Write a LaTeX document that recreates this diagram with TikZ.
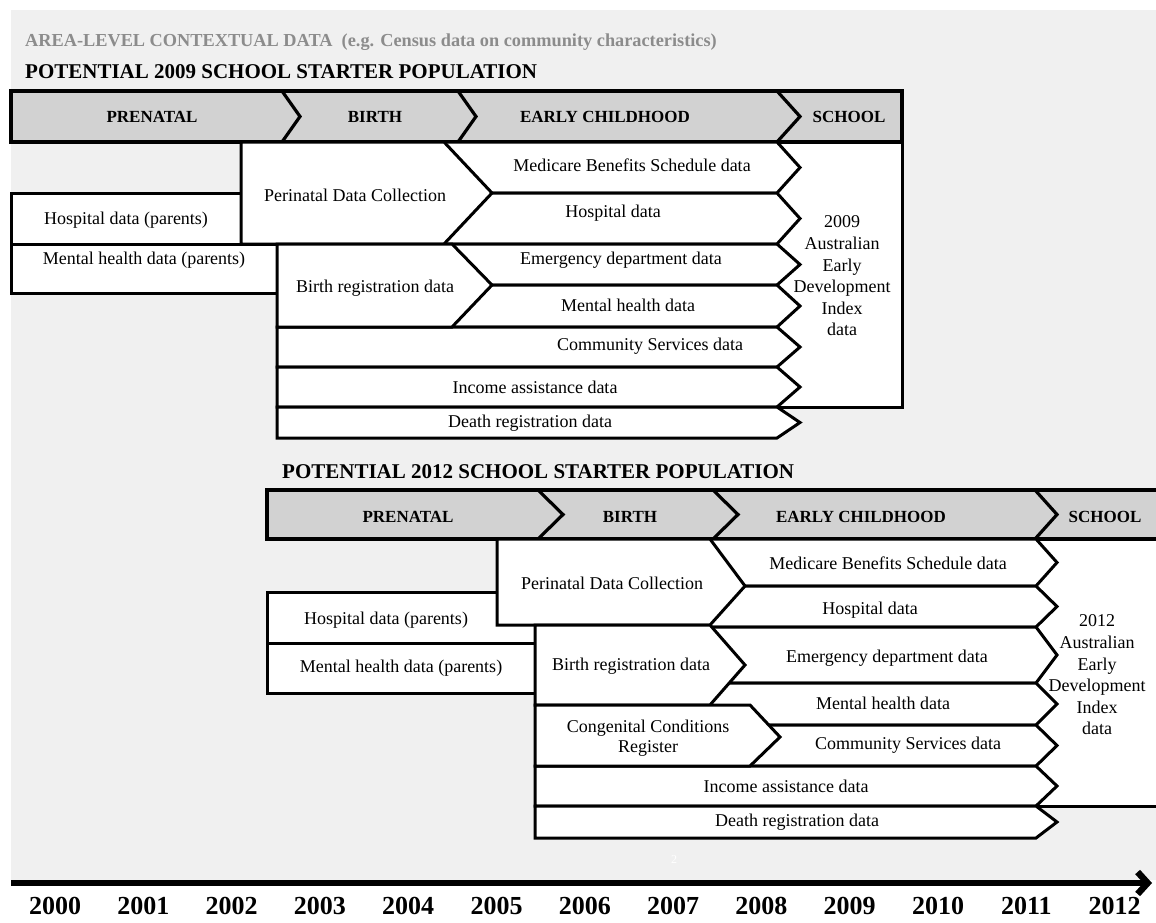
\documentclass[tikz,border=0pt]{standalone}
\usepackage{fontspec}
\setmainfont{Liberation Serif}
\usetikzlibrary{arrows.meta}
\definecolor{bggray}{HTML}{F0F0F0}
\definecolor{hdrgray}{HTML}{D2D2D2}
\definecolor{areagray}{HTML}{8C8C8C}

\begin{document}
\begin{tikzpicture}[x=1pt, y=-1pt,
  box/.style={draw=black, fill=white, line width=3pt},
  hdr/.style={draw=black, fill=hdrgray, line width=3.4pt},
  sep/.style={draw=black, line width=3.2pt},
  lbl/.style={font=\fontsize{18}{21.6}\selectfont, inner sep=0pt, align=center},
  hlbl/.style={font=\fontsize{17}{20}\selectfont\bfseries, inner sep=0pt},
  title/.style={font=\fontsize{21}{25}\selectfont\bfseries, anchor=west, inner sep=0pt},
  year/.style={font=\fontsize{26}{28}\selectfont\bfseries, inner sep=0pt},
  axis/.style={line width=6.5pt, -{Straight Barb[length=10pt, width=22pt]}},
]
\useasboundingbox (0,0) rectangle (1156,922);

% Background
\fill[bggray] (11,10) rectangle (1160,880);

% Time axis
\coordinate (axisL) at (11,883);
\coordinate (axisR) at (1152,883);
\draw[axis] (axisL) -- (axisR);
\foreach \yr [count=\i from 0] in {2000,...,2012}
  \node[year] (y\yr) at (55+88.3*\i, 906) {\yr};
\node[font=\fontsize{12}{14}\selectfont, text=white] (pgno) at (674,860) {2};

% Titles
\node[font=\fontsize{18.3}{22}\selectfont\bfseries, text=areagray, anchor=west, inner sep=0pt] (area)
  at (25,42) {AREA-LEVEL CONTEXTUAL DATA\ \ (e.g. Census data on community characteristics)};
\node[title] (pop09) at (25,72) {POTENTIAL 2009 SCHOOL STARTER POPULATION};
\node[title] (pop12) at (282,472) {POTENTIAL 2012 SCHOOL STARTER POPULATION};

%%%%% 2009 cohort
% Stage bar
\draw[hdr] (11,91) rectangle (902,142);
\draw[sep] (282,91) -- (300,116.5) -- (282,142);
\draw[sep] (458,91) -- (476,116.5) -- (458,142);
\draw[sep] (777,91) -- (800,116.5) -- (777,142);
\node[hlbl] (pre09) at (152,117) {PRENATAL};
\node[hlbl] (bir09) at (375,117) {BIRTH};
\node[hlbl] (ear09) at (605,117) {EARLY CHILDHOOD};
\node[hlbl] (sch09) at (849,117) {SCHOOL};

% AEDI box
\draw[box] (760,142) rectangle (902,407);

% Data rows
\foreach \xa/\ya/\yb in {440/142/193, 440/193/244, 440/244/285, 440/285/327,
                         277/327/367, 277/367/407, 277/407/438}
  \draw[box] (\xa,\ya) -- (777,\ya) -- (800,{(\ya+\yb)/2}) -- (777,\yb) -- (\xa,\yb) -- cycle;

% Left sources
\draw[box] (11,193) rectangle (241,244);
\draw[box] (11,244) rectangle (277,293);
\draw[box] (241,142) -- (444,142) -- (492,193) -- (444,244) -- (241,244) -- cycle;
\draw[box] (277,244) -- (452,244) -- (492,285) -- (452,327) -- (277,327) -- cycle;

\node[lbl] (hpar09) at (126,220) {Hospital data (parents)};
\node[lbl] (mpar09) at (144,260) {Mental health data (parents)};
\node[lbl] (peri09) at (355,195) {Perinatal Data Collection};
\node[lbl] (breg09) at (375,288) {Birth registration data};
\node[lbl] (mbs09)  at (632,165) {Medicare Benefits Schedule data};
\node[lbl] (hosp09) at (613,213) {Hospital data};
\node[lbl] (emer09) at (621,260) {Emergency department data};
\node[lbl] (ment09) at (628,305) {Mental health data};
\node[lbl] (comm09) at (650,346) {Community Services data};
\node[lbl] (inc09)  at (535,387) {Income assistance data};
\node[lbl] (dth09)  at (530,423) {Death registration data};
\node[lbl] (aedi09) at (842,276) {2009\\Australian\\Early\\Development\\Index\\data};

%%%%% 2012 cohort
% Stage bar
\draw[hdr] (267,490) rectangle (1165,539);
\draw[sep] (538,490) -- (563,514.5) -- (538,539);
\draw[sep] (713,490) -- (738,514.5) -- (713,539);
\draw[sep] (1035,490) -- (1057,514.5) -- (1035,539);
\node[hlbl] (pre12) at (408,517) {PRENATAL};
\node[hlbl] (bir12) at (630,517) {BIRTH};
\node[hlbl] (ear12) at (861,517) {EARLY CHILDHOOD};
\node[hlbl] (sch12) at (1105,517) {SCHOOL};

% AEDI box
\draw[box] (1020,539) rectangle (1165,806);

% Data rows
\foreach \xa/\ya/\yb in {700/539/586, 700/586/627, 700/627/683, 700/683/725,
                         700/725/766, 535/766/806, 535/806/838}
  \draw[box] (\xa,\ya) -- (1036,\ya) -- (1057,{(\ya+\yb)/2}) -- (1036,\yb) -- (\xa,\yb) -- cycle;

% Left sources
\draw[box] (267,592) rectangle (535,643);
\draw[box] (267,643) rectangle (535,693);
\draw[box] (497,539) -- (710,539) -- (745,586) -- (710,625) -- (497,625) -- cycle;
\draw[box] (535,625) -- (710,625) -- (745,665) -- (710,705) -- (535,705) -- cycle;
\draw[box] (535,705) -- (750,705) -- (780,737) -- (750,766) -- (535,766) -- cycle;

\node[lbl] (hpar12) at (386,620) {Hospital data (parents)};
\node[lbl] (mpar12) at (401,668) {Mental health data (parents)};
\node[lbl] (peri12) at (612,583) {Perinatal Data Collection};
\node[lbl] (breg12) at (631,666) {Birth registration data};
\node[lbl, font=\fontsize{18}{20}\selectfont] (cong12) at (648,738) {Congenital Conditions\\Register};
\node[lbl] (mbs12)  at (888,563) {Medicare Benefits Schedule data};
\node[lbl] (hosp12) at (870,610) {Hospital data};
\node[lbl] (emer12) at (887,658) {Emergency department data};
\node[lbl] (ment12) at (883,703) {Mental health data};
\node[lbl] (comm12) at (908,745) {Community Services data};
\node[lbl] (inc12)  at (786,786) {Income assistance data};
\node[lbl] (dth12)  at (797,822) {Death registration data};
\node[lbl] (aedi12) at (1097,675) {2012\\Australian\\Early\\Development\\Index\\data};

\end{tikzpicture}
\end{document}
